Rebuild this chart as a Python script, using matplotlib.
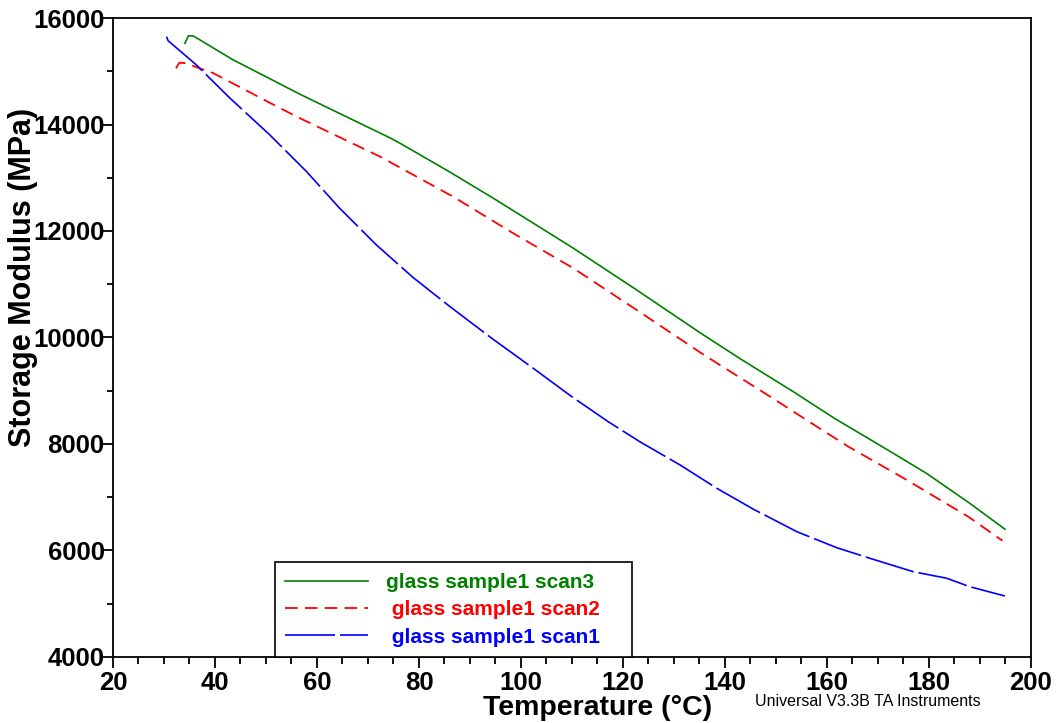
import matplotlib
matplotlib.use("Agg")
import matplotlib.pyplot as plt
from matplotlib.ticker import MultipleLocator

plt.rcParams['font.family'] = ['Liberation Sans', 'DejaVu Sans']

# storage modulus vs temperature, three DMA scans of the same glass sample
temp_scan3 = [34.1, 34.8, 35.8, 43.5, 56.7, 59.2, 74.3, 76.3, 86.0, 94.6, 110.2,
              122.7, 135.1, 143.0, 153.4, 161.5, 171.7, 179.5, 188.0, 194.9]
mod_scan3 = [15525, 15667, 15660, 15217, 14567, 14450, 13750, 13647, 13110, 12614, 11681,
             10892, 10090, 9600, 8982, 8480, 7900, 7450, 6886, 6400]

temp_scan2 = [32.35, 33.0, 34.45, 36.1, 39.6, 52.7, 56.7, 72.4, 86.7, 98.4, 110.2,
              122.7, 135.1, 139.0, 148.2, 156.0, 164.2, 175.0, 187.7, 194.4]
mod_scan2 = [15055, 15160, 15150, 15085, 14967, 14310, 14116, 13395, 12644, 11962, 11305,
             10516, 9722, 9484, 8930, 8450, 7950, 7360, 6635, 6184]

temp_scan1 = [30.5, 30.8, 36.3, 42.9, 50.7, 57.9, 64.4, 71.6, 78.8, 86.0, 94.2,
              102.4, 109.8, 117.1, 123.3, 131.2, 138.4, 145.6, 154.1, 161.9,
              168.4, 176.9, 183.5, 188.0, 194.9]
mod_scan1 = [15650, 15574, 15123, 14498, 13809, 13121, 12432, 11743, 11130, 10586, 9990,
             9422, 8900, 8419, 8043, 7606, 7168, 6774, 6353, 6053,
             5854, 5602, 5478, 5320, 5145]

labels = ["glass sample1 scan3", " glass sample1 scan2", " glass sample1 scan1"]
colors = ["#008000", "#ff0000", "#0000ff"]

fig = plt.figure(figsize=(10.61, 7.23), dpi=100)
ax = fig.add_axes([0.1065, 0.0913, 0.8652, 0.8838])

l3, = ax.plot(temp_scan3, mod_scan3, color=colors[0], lw=1.2, linestyle="-")
l2, = ax.plot(temp_scan2, mod_scan2, color=colors[1], lw=1.3, linestyle=(0, (7, 4)))
l1, = ax.plot(temp_scan1, mod_scan1, color=colors[2], lw=1.2, linestyle=(0, (30, 3)))

ax.set_xlim(20, 200)
ax.set_ylim(4000, 16000)
ax.xaxis.set_major_locator(MultipleLocator(20))
ax.xaxis.set_minor_locator(MultipleLocator(5))
ax.yaxis.set_major_locator(MultipleLocator(2000))
ax.yaxis.set_minor_locator(MultipleLocator(1000))
ax.tick_params(which="both", direction="out", width=1.3, top=False, right=False)
ax.tick_params(which="major", labelsize=18.5)
ax.tick_params(axis="x", which="major", length=8, pad=2)
ax.tick_params(axis="x", which="minor", length=5)
ax.tick_params(axis="y", which="major", length=7, pad=-1)
ax.tick_params(axis="y", which="minor", length=4)
for lab in ax.get_xticklabels() + ax.get_yticklabels():
    lab.set_fontweight("bold")
for sp in ax.spines.values():
    sp.set_linewidth(1.3)

ax.set_xlabel("Temperature (°C)", fontsize=20.5, fontweight="bold")
ax.set_ylabel("Storage Modulus (MPa)", fontsize=22, fontweight="bold")
ax.xaxis.set_label_coords(0.528, -0.059)
ax.yaxis.set_label_coords(-0.0817, 0.594)

leg = ax.legend([l3, l2, l1], labels, loc="lower left",
                bbox_to_anchor=(0.1765, 0.0, 0.389, 0.1487), mode="expand",
                prop={"weight": "bold", "size": 15},
                handlelength=3.95, handletextpad=0.87, labelspacing=0.4,
                borderpad=0.5, fancybox=False, framealpha=1, edgecolor="black",
                borderaxespad=0)
leg.get_frame().set_linewidth(1.2)
for txt, c in zip(leg.get_texts(), colors):
    txt.set_color(c)

fig.text(0.8178, 0.0304, "Universal V3.3B TA Instruments", fontsize=11.5,
         ha="center", va="center")

fig.savefig("out.png", dpi=100)
